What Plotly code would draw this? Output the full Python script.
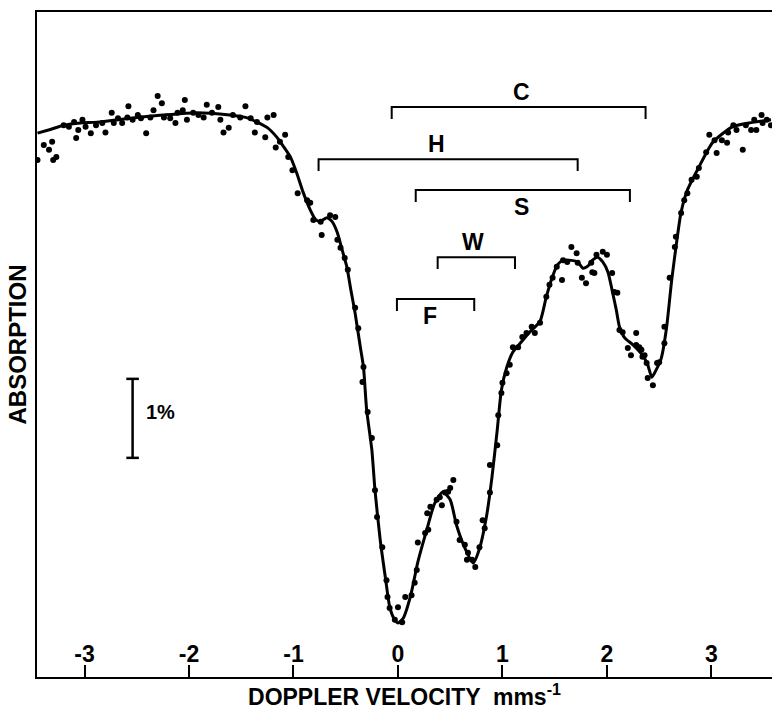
import plotly.graph_objects as go

# fitted envelope (velocity mm/s, absorption %)
curve_v = [-3.45, -3.32, -3.20, -3.04, -2.88, -2.56, -2.25, -1.92, -1.61, -1.46, -1.35, -1.25,
           -1.16, -1.10, -1.03, -0.97, -0.91, -0.84, -0.79, -0.75, -0.68, -0.63, -0.58, -0.54,
           -0.49, -0.45, -0.41, -0.36, -0.33, -0.30, -0.25, -0.22, -0.17, -0.12, -0.08, -0.04,
           0.00, 0.05, 0.12, 0.19, 0.28, 0.35, 0.43, 0.50, 0.56, 0.64, 0.72, 0.78, 0.85, 0.90,
           0.95, 0.99, 1.04, 1.10, 1.17, 1.26, 1.36, 1.42, 1.48, 1.53, 1.58, 1.66, 1.72, 1.77,
           1.82, 1.86, 1.91, 1.96, 2.01, 2.05, 2.09, 2.12, 2.17, 2.25, 2.34, 2.39, 2.43, 2.47,
           2.52, 2.57, 2.62, 2.67, 2.71, 2.77, 2.88, 3.01, 3.20, 3.36, 3.57]
curve_a = [0.23, 0.18, 0.13, 0.10, 0.09, 0.04, 0.00, -0.03, 0.00, 0.03, 0.09, 0.16,
           0.28, 0.39, 0.53, 0.73, 0.97, 1.20, 1.32, 1.35, 1.30, 1.35, 1.49, 1.68,
           1.92, 2.22, 2.51, 2.94, 3.19, 3.73, 4.24, 4.75, 5.38, 5.86, 6.22, 6.37,
           6.43, 6.37, 6.09, 5.66, 5.23, 4.92, 4.77, 4.87, 5.19, 5.48, 5.67, 5.49, 5.06, 4.58,
           3.99, 3.48, 3.20, 3.00, 2.89, 2.75, 2.61, 2.30, 2.04, 1.89, 1.84, 1.84, 1.86, 1.94,
           1.91, 1.84, 1.80, 1.86, 1.99, 2.22, 2.47, 2.68, 2.82, 2.91, 3.04, 3.16, 3.32, 3.23,
           3.08, 2.70, 2.09, 1.58, 1.23, 0.95, 0.66, 0.35, 0.15, 0.10, 0.06]

# measured points
pts_v = [-3.45, -3.39, -3.34, -3.31, -3.30, -3.27, -3.20, -3.15, -3.10, -3.08, -3.06, -3.02,
         -2.99, -2.94, -2.89, -2.83, -2.80, -2.74, -2.72, -2.68, -2.64, -2.59, -2.58, -2.54,
         -2.49, -2.46, -2.41, -2.37, -2.34, -2.30, -2.26, -2.24, -2.18, -2.13, -2.11, -2.06,
         -2.04, -2.02, -1.96, -1.91, -1.86, -1.83, -1.78, -1.72, -1.70, -1.67, -1.62, -1.58,
         -1.51, -1.46, -1.41, -1.35, -1.37, -1.25, -1.27, -1.19, -1.17, -1.13, -1.08, -1.05,
         -1.01, -0.96, -0.87, -0.84, -0.81, -0.74, -0.73, -0.65, -0.60, -0.58, -0.55, -0.51,
         -0.48, -0.41, -0.38, -0.33,
         -0.34, -0.29, -0.25, -0.22, -0.20, -0.15, -0.11, -0.10, -0.08, 0.00, -0.03, 0.04,
         0.07, 0.13, 0.16, 0.18, 0.19, 0.26, 0.29, 0.28, 0.31, 0.37, 0.40, 0.42, 0.45, 0.48,
         0.53, 0.50, 0.56, 0.59, 0.64, 0.67, 0.66, 0.71, 0.74, 0.78, 0.83, 0.81, 0.88, 0.88,
         0.95, 0.96, 0.99, 1.00, 1.04, 1.07,
         1.10, 1.15, 1.19, 1.23, 1.28, 1.31, 1.36, 1.42, 1.45, 1.48, 1.57, 1.52, 1.58, 1.62,
         1.66, 1.71, 1.72, 1.76, 1.80, 1.86, 1.88, 1.85, 1.90, 1.96, 2.00, 2.05, 2.07, 2.10,
         2.12, 2.15, 2.20, 2.23, 2.28, 2.28, 2.31, 2.33, 2.34, 2.36, 2.38, 2.39, 2.44, 2.48,
         2.50, 2.55, 2.55, 2.60, 2.65, 2.66, 2.71, 2.74, 2.77, 2.81, 2.86, 2.88, 2.95, 2.98,
         3.03, 3.05, 3.10, 3.15, 3.16, 3.21, 3.24, 3.30, 3.33, 3.38, 3.41, 3.43, 3.48, 3.49,
         3.53, 3.57]
pts_a = [0.57, 0.38, 0.44, 0.34, 0.57, 0.53, 0.13, 0.15, 0.09, 0.29, 0.19, 0.06,
         0.15, 0.23, 0.13, 0.10, 0.22, -0.03, 0.10, 0.04, 0.10, 0.03, -0.11, 0.06,
         0.00, 0.04, 0.23, 0.03, -0.06, -0.24, -0.15, 0.03, 0.04, 0.10, -0.03, -0.06,
         -0.19, 0.06, -0.03, 0.00, 0.03, -0.13, -0.03, -0.10, 0.06, 0.22, 0.16, 0.00,
         0.03, -0.11, 0.04, 0.09, 0.22, 0.03, 0.28, 0.00, 0.41, 0.34, 0.25, 0.53,
         0.70, 0.99, 1.08, 1.11, 1.33, 1.35, 1.52, 1.27, 1.29, 1.58, 1.68, 1.81,
         1.96, 2.44, 2.70, 3.19,
         3.38, 3.76, 4.09, 4.75, 5.09, 5.47, 5.89, 6.10, 6.24, 6.23, 6.39, 6.42,
         6.10, 6.08, 5.92, 5.76, 5.41, 5.29, 5.25, 5.04, 4.96, 4.87, 4.84, 4.94, 4.78, 4.77,
         4.62, 4.72, 5.15, 5.38, 5.44, 5.54, 5.63, 5.63, 5.72, 5.47, 5.23, 5.13, 4.78, 4.43,
         4.18, 3.80, 3.52, 3.39, 3.27, 3.16,
         2.94, 2.94, 2.81, 2.76, 2.68, 2.76, 2.63, 2.30, 2.15, 2.06, 2.09, 1.92, 1.84, 1.86,
         1.67, 1.75, 1.87, 2.06, 2.13, 1.99, 2.00, 1.87, 1.77, 1.73, 1.77, 2.00, 2.24, 2.25,
         2.72, 2.75, 2.95, 3.04, 2.91, 2.76, 2.94, 2.97, 3.06, 3.04, 3.14, 3.33, 3.42, 3.14,
         3.13, 2.89, 2.68, 2.06, 1.67, 1.54, 1.24, 1.08, 0.99, 0.82, 0.78, 0.67, 0.47, 0.25,
         0.32, 0.48, 0.32, 0.35, 0.22, 0.13, 0.19, 0.44, 0.13, 0.19, 0.06, 0.19, 0.00, 0.10,
         0.06, 0.13]

# site brackets: label, left/right velocity, level (absorption %), label above?
bracket_labels = ["C", "H", "S", "W", "F"]
bracket_left = [-0.06, -0.76, 0.17, 0.38, -0.01]
bracket_right = [2.37, 1.72, 2.22, 1.12, 0.73]
bracket_level = [-0.10, 0.56, 0.95, 1.80, 2.33]
bracket_label_x = [1.18, 0.37, 1.18, 0.72, 0.31]
bracket_label_above = [True, True, False, True, False]

# 1% scale bar
scale_v = -2.54
scale_top = 3.34
scale_size = 1.0

x_ticks = [-3, -2, -1, 0, 1, 2, 3]
x_tick_text = ["-3", "-2", "-1", "0", "1", "2", "3"]

FONT = "Liberation Sans, Arial, Helvetica, sans-serif"

fig = go.Figure()
fig.add_trace(go.Scatter(
    x=curve_v, y=curve_a, mode="lines",
    line=dict(color="black", width=3, shape="spline", smoothing=0.6),
    hoverinfo="skip"
))
fig.add_trace(go.Scatter(
    x=pts_v, y=pts_a, mode="markers",
    marker=dict(color="black", size=6)
))

tick_drop = 0.15
for lab, x0, x1, lvl, lx, above in zip(bracket_labels, bracket_left, bracket_right,
                                        bracket_level, bracket_label_x, bracket_label_above):
    fig.add_shape(type="path",
                  path=f"M {x0},{lvl + tick_drop} L {x0},{lvl} L {x1},{lvl} L {x1},{lvl + tick_drop}",
                  line=dict(color="black", width=2))
    fig.add_annotation(x=lx, y=lvl, text=f"<b>{lab}</b>", showarrow=False,
                       yshift=15 if above else -17,
                       font=dict(size=23, family=FONT, color="black"))

cap = 0.06
fig.add_shape(type="line", x0=scale_v, x1=scale_v, y0=scale_top, y1=scale_top + scale_size,
              line=dict(color="black", width=2.5))
for yy in [scale_top, scale_top + scale_size]:
    fig.add_shape(type="line", x0=scale_v - cap, x1=scale_v + cap, y0=yy, y1=yy,
                  line=dict(color="black", width=2.5))
fig.add_annotation(x=scale_v + 0.27, y=scale_top + 0.42, text="<b>1%</b>", showarrow=False,
                   font=dict(size=20, family=FONT, color="black"))

fig.update_layout(
    width=772, height=712,
    plot_bgcolor="white", paper_bgcolor="white",
    showlegend=False,
    margin=dict(l=37, r=0, t=12, b=35),
    font=dict(size=22, family=FONT, color="black"),
    xaxis=dict(
        range=[-3.455, 3.58],
        tickvals=x_ticks,
        ticktext=[f"<b>{t}</b>" for t in x_tick_text],
        ticks="inside", ticklen=12, tickwidth=2, tickcolor="black",
        ticklabelposition="inside",
        tickfont=dict(size=23, family=FONT, color="black"),
        showline=True, linecolor="black", linewidth=2, mirror=True,
        showgrid=False, zeroline=False, automargin=False,
        title=dict(text="<b>DOPPLER VELOCITY  mms<sup>-1</sup></b>", standoff=23,
                   font=dict(size=23, family=FONT, color="black")),
    ),
    yaxis=dict(
        range=[7.114, -1.304],
        showticklabels=False, ticks="",
        showline=True, linecolor="black", linewidth=2,
        showgrid=False, zeroline=False, automargin=False,
        title=dict(text="<b>ABSORPTION</b>", standoff=2,
                   font=dict(size=24, family=FONT, color="black")),
    ),
)

# drop the default page margin so the 772x712 figure sits flush in the window
fig.write_html("out.html", config={"displayModeBar": False},
               post_script="document.body.style.margin='0';")
